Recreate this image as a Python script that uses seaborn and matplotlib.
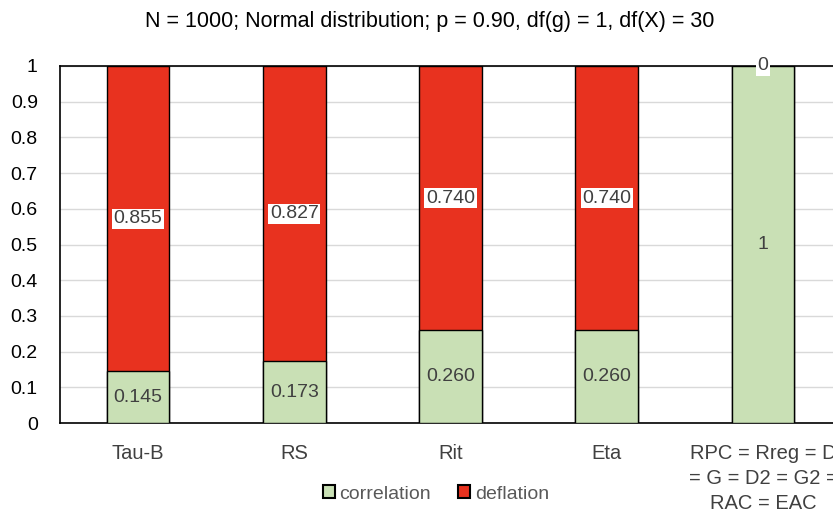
import matplotlib
matplotlib.use("Agg")
import matplotlib.pyplot as plt
import seaborn as sns
import pandas as pd
from matplotlib.patches import Patch

categories = ["Tau-B", "RS", "Rit", "Eta", "RPC = Rreg = D\n= G = D2 = G2 =\nRAC = EAC"]
correlation = [0.145, 0.173, 0.260, 0.260, 1.0]
deflation = [0.855, 0.827, 0.740, 0.740, 0.0]
corr_labels = ["0.145", "0.173", "0.260", "0.260", "1"]
defl_labels = ["0.855", "0.827", "0.740", "0.740", "0"]
yticks = [0, 0.1, 0.2, 0.3, 0.4, 0.5, 0.6, 0.7, 0.8, 0.9, 1]
ytick_labels = ["0", "0.1", "0.2", "0.3", "0.4", "0.5", "0.6", "0.7", "0.8", "0.9", "1"]
title = "N = 1000; Normal distribution; p = 0.90, df(g) = 1, df(X) = 30"

GREEN = "#c9e0b5"
RED = "#e8321f"

sns.set_theme(style="white")
plt.rcParams["font.family"] = ["Liberation Sans", "DejaVu Sans"]

df = pd.DataFrame({"cat": categories, "corr": correlation, "defl": deflation})
df["total"] = df["corr"] + df["defl"]

fig = plt.figure(figsize=(8.33, 5.17), dpi=100)
ax = fig.add_axes([60 / 833, (517 - 423) / 517, (841 - 60) / 833, (423 - 66) / 517])

sns.barplot(data=df, x="cat", y="total", color=RED, width=0.4, edgecolor="black",
            linewidth=1.0, saturation=1, ax=ax, zorder=2)
sns.barplot(data=df, x="cat", y="corr", color=GREEN, width=0.4, edgecolor="black",
            linewidth=1.0, saturation=1, ax=ax, zorder=3)

ax.set_ylim(0, 1)
ax.set_xlim(-0.5, len(categories) - 0.5)
ax.set_yticks(yticks)
ax.set_yticklabels(ytick_labels)
ax.yaxis.grid(True, color="#d9d9d9", linewidth=1.0, zorder=0)
ax.set_axisbelow(True)
ax.set_xlabel("")
ax.set_ylabel("")
ax.tick_params(axis="y", length=0, labelsize=14, colors="black", pad=16)
ax.tick_params(axis="x", length=0, labelsize=14.5, colors="#404040", pad=15)
for lbl in ax.get_xticklabels():
    lbl.set_linespacing(1.4)
for s in ["left", "top", "bottom"]:
    ax.spines[s].set_visible(True)
    ax.spines[s].set_color("black")
    ax.spines[s].set_linewidth(1.2)
ax.spines["right"].set_visible(False)

for i, (c, d) in enumerate(zip(correlation, deflation)):
    ax.text(i, c / 2, corr_labels[i], ha="center", va="center", fontsize=14,
            color="#404040", zorder=5)
    ax.text(i, c + d / 2, defl_labels[i], ha="center", va="center", fontsize=14,
            color="#404040", zorder=5,
            bbox=dict(boxstyle="square,pad=0.08", facecolor="white", edgecolor="none"))

fig.text(430 / 833, 1 - 22 / 517, title, ha="center", va="center",
         fontsize=15.5, color="black")

handles = [Patch(facecolor=GREEN, edgecolor="black", linewidth=1.5, label="correlation"),
           Patch(facecolor=RED, edgecolor="black", linewidth=1.5, label="deflation")]
fig.legend(handles=handles, loc="center", bbox_to_anchor=(436 / 833, 1 - 494 / 517), ncol=2,
           frameon=False, fontsize=14, handlelength=0.6, handleheight=0.6,
           handletextpad=0.25, columnspacing=1.4, labelcolor="#595959")

fig.savefig("out.png", dpi=100)
